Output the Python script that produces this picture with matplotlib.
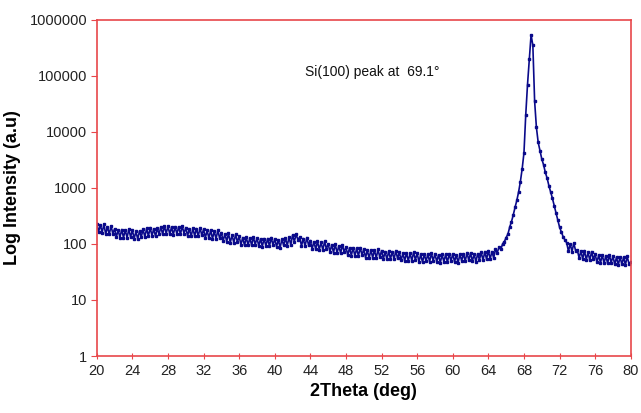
import matplotlib
matplotlib.use("Agg")
import matplotlib.pyplot as plt
import numpy as np

plt.rcParams['font.family'] = ['Liberation Sans', 'DejaVu Sans']

# 2Theta from 20 to 80 deg in 0.2 deg steps
two_theta = np.arange(0, 301) * 0.2 + 20.0
intensity = [
    230, 164, 220, 160, 224,   150, 203, 148, 210, 153,   186, 133, 178, 130, 181,
    130, 177, 129, 183, 133,   175, 125, 167, 122, 170,   134, 182, 133, 189, 138,
    196, 139, 187, 136, 190,   150, 203, 148, 210, 153,   209, 149, 200, 146, 204,
    150, 203, 148, 210, 153,   196, 139, 187, 136, 190,   139, 188, 137, 195, 142,
    182, 130, 174, 126, 177,   124, 169, 123, 175, 127,   159, 113, 152, 110, 155,
    106, 144, 105, 149, 108,   136, 97, 130, 94, 132,     95, 129, 94, 133, 97,
    129, 92, 123, 90, 125,     92, 125, 91, 130, 95,      124, 89, 119, 86, 121,
    94, 128, 93, 132, 96,      144, 110, 150, 118, 132,   92, 125, 91, 130, 95,
    115, 82, 110, 80, 112,     79, 107, 78, 111, 81,      101, 72, 97, 70, 99,
    69, 93, 68, 97, 71,        89, 63, 85, 62, 86,        61, 83, 61, 86, 63,
    81, 57, 77, 56, 78,        57, 78, 56, 80, 58,        76, 54, 73, 53, 74,
    54, 73, 53, 76, 55,        71, 51, 68, 50, 69,        50, 68, 50, 71, 52,
    68, 48, 65, 47, 66,        49, 66, 48, 68, 50,        67, 48, 64, 46, 65,
    48, 65, 47, 67, 49,        67, 48, 64, 46, 65,        50, 67, 49, 70, 51,
    69, 49, 66, 48, 67,        52, 71, 51, 73, 53,        76, 54, 73, 56, 80,
    70, 88, 80, 100, 110,      130, 150, 200, 250, 330,   450, 600, 850, 1300, 2200,
    4200, 20000, 70000, 200000, 540000,   350000, 35000, 12000, 6500, 4600,
    3300, 2600, 1900, 1500, 1100,   850, 650, 480, 360, 270,   200, 165, 135, 118, 105,
    74, 100, 73, 104, 76,      78, 56, 75, 54, 76,        52, 71, 51, 73, 53,
    66, 47, 63, 46, 64,        45, 62, 45, 64, 46,        61, 43, 58, 42, 59,
    43, 58, 42, 60, 44,        48,
]
x_ticks = list(range(20, 81, 4))
y_ticks = [1, 10, 100, 1000, 10000, 100000, 1000000]
y_labels = ['1', '10', '100', '1000', '10000', '100000', '1000000']

red = '#e8474a'
navy = '#0a0a8a'

fig = plt.figure(figsize=(6.41, 4.13), dpi=100)
ax = fig.add_axes([0.151, 0.138, 0.833, 0.814])
ax.plot(two_theta, intensity, color=navy, lw=1.2, marker='s', ms=1.8, mec=navy, mfc=navy)
ax.set_yscale('log')
ax.set_xlim(20, 80)
ax.set_ylim(1, 1000000)
ax.set_xticks(x_ticks)
ax.set_xticklabels([str(t) for t in x_ticks])
ax.set_yticks(y_ticks)
ax.set_yticklabels(y_labels)
ax.yaxis.set_minor_locator(matplotlib.ticker.NullLocator())
for s in ax.spines.values():
    s.set_color(red)
    s.set_linewidth(1.2)
ax.tick_params(axis='x', direction='inout', length=5, color=red, labelsize=10.5,
               labelcolor='#222222', pad=3)
ax.tick_params(axis='y', direction='out', length=4, color=red, labelsize=10.5,
               labelcolor='#222222', pad=3)
ax.set_xlabel('2Theta (deg)', fontsize=13, fontweight='bold', labelpad=4)
ax.set_ylabel('Log Intensity (a.u)', fontsize=13, fontweight='bold', labelpad=6)
ax.text(43.4, 117000, 'Si(100) peak at  69.1°', fontsize=10, va='center', ha='left',
        color='#111111')
fig.savefig('out.png', dpi=100)
